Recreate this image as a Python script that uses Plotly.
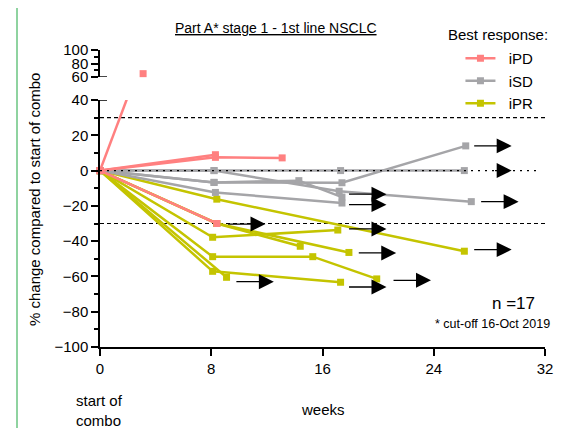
import plotly.graph_objects as go

# ---------------- data ----------------
x_ticks = [0, 8, 16, 24, 32]
y_ticks_low = [-100, -80, -60, -40, -20, 0, 20, 40]
y_ticks_up = [60, 80, 100]

# iPD (progressive disease)
pd_weeks = [[0, 8.3], [0, 8.3, 13.1], [0, 8.4]]
pd_vals = [[0, 9], [0, 7.5, 7.2], [0, -30]]
pd_up_weeks = [0, 3.1]          # patient going off the lower scale
pd_up_vals = [0, 65]

# iSD (stable disease)
sd_weeks = [[0, 8.2, 17.3, 26.2], [0, 8.2, 17.2, 26.7], [0, 8.2, 17.4, 26.3],
            [0, 8.2, 14.3, 17.4], [0, 8.3, 17.4]]
sd_vals = [[0, 0, 0, 0], [0, 0, -11.7, -17.6], [0, -6.7, -6.9, 14],
           [0, -6.7, -5.7, -15], [0, -12.4, -18.4]]

# iPR (partial response)
pr_weeks = [[0, 8.4, 26.2], [0, 8.1, 17.1], [0, 8.4, 14.4], [0, 8.4, 17.9],
            [0, 8.1, 15.3, 19.9], [0, 8.1, 17.3], [0, 9.1]]
pr_vals = [[0, -16.2, -45.7], [0, -37.8, -33.7], [0, -30, -42.9], [0, -30, -46.4],
           [0, -48.8, -48.8, -61.4], [0, -57.1, -63.3], [0, -60.5]]

# ongoing-treatment arrows (start week, value)
arrow_weeks = [9.1, 26.8, 26.8, 27.3, 17.8, 17.8, 17.8, 18.5, 21.0, 17.8, 9.7, 26.8]
arrow_vals = [-30.3, 14, 0, -17.6, -13.4, -19.3, -33.1, -46.7, -62.2, -66, -63, -44.8]
arrow_dotted = [False, False, True, False, False, False, False, False, False, False, False, False]
arrow_len = 2.8

ref_lines = [30, -30]

# ---------------- style ----------------
PINK = "#FF8080"
GREY = "#A5A5A8"
YEL = "#C4C400"
FONT = "Liberation Sans, Arial, sans-serif"

fig = go.Figure()


def add_group(weeks, vals, color, name, rank):
    for i, (w, v) in enumerate(zip(weeks, vals)):
        fig.add_trace(go.Scatter(
            x=w, y=v, mode="lines+markers", name="  " + name, legendgroup=name,
            showlegend=(i == 0), legendrank=rank,
            line=dict(color=color, width=2.5),
            marker=dict(symbol="square", size=7, color=color),
            cliponaxis=False, hoverinfo="skip"))


add_group(pr_weeks, pr_vals, YEL, "iPR", 3)
add_group(sd_weeks, sd_vals, GREY, "iSD", 2)
add_group(pd_weeks, pd_vals, PINK, "iPD", 1)

# off-scale iPD patient: line on lower axis (clipped), marker on upper axis
fig.add_trace(go.Scatter(x=pd_up_weeks, y=pd_up_vals, mode="lines", showlegend=False,
                         line=dict(color=PINK, width=2.5), hoverinfo="skip"))
fig.add_trace(go.Scatter(x=pd_up_weeks[-1:], y=pd_up_vals[-1:], mode="markers",
                         yaxis="y2", showlegend=False,
                         marker=dict(symbol="square", size=7, color=PINK),
                         cliponaxis=False, hoverinfo="skip"))

# zero reference dotted line
fig.add_shape(type="line", xref="x", yref="y", x0=x_ticks[0], x1=31.6, y0=0, y1=0,
              line=dict(color="black", width=1.2, dash="2px,5px"), layer="above")
# threshold dashed lines
for r in ref_lines:
    fig.add_shape(type="line", xref="x", yref="y", x0=x_ticks[0], x1=x_ticks[-1], y0=r, y1=r,
                  line=dict(color="black", width=1.2, dash="4px,3px"), layer="below")

# arrows (the one on the zero line keeps only a short solid part, the dotted line shows through)
for w, v, dotted in zip(arrow_weeks, arrow_vals, arrow_dotted):
    tip = w + arrow_len
    fig.add_annotation(x=tip, y=v, ax=(tip - 1.3) if dotted else w, ay=v,
                       xref="x", yref="y", axref="x", ayref="y", text="",
                       showarrow=True, arrowhead=2, arrowsize=2.3, arrowwidth=1.3,
                       arrowcolor="black", standoff=0, startstandoff=0)

# axis break marks
fig.add_shape(type="line", xref="paper", yref="y", x0=0, x1=7 / 445, y0=40, y1=40,
              line=dict(color="black", width=1.5))
fig.add_shape(type="line", xref="paper", yref="y2", x0=0, x1=7 / 445, y0=60, y1=60,
              line=dict(color="black", width=1.5))

# frame
fig.add_shape(type="rect", xref="paper", yref="paper", x0=-0.1865, x1=1.0505, y0=-0.35, y1=1.147,
              line=dict(color="#8FD3A0", width=2), layer="below")

# texts
def note(x, y, text, size, xanchor="center", **kw):
    fig.add_annotation(x=x, y=y, xref="paper", yref="paper", text=text, showarrow=False,
                       xanchor=xanchor, yanchor="middle",
                       font=dict(size=size, color="black", family=FONT), **kw)


note(0.3955, 1.074, "<u>Part A* stage 1 - 1st line NSCLC</u>", 14)
note(0.894, 1.052, "Best response:", 15)
note(-0.146, 0.495, "% change compared to start of combo", 15, textangle=-90)
note(0.5, -0.212, "weeks", 15)
note(-0.058, -0.215, "start of<br>combo", 15, xanchor="left", align="left")
note(0.982, 0.145, "n =17", 17, xanchor="right")
note(1.0157, 0.079, "* cut-off 16-Oct 2019", 12.5, xanchor="right")

axis_common = dict(showline=True, linecolor="black", linewidth=1.5, ticks="outside",
                   ticklen=7, tickwidth=1.5, tickcolor="black", showgrid=False,
                   zeroline=False, tickfont=dict(size=15, color="black", family=FONT))

# the page body adds an 8 px offset; the figure is sized so the plot area lands in place
fig.update_layout(
    width=564, height=420, margin=dict(l=92, r=27, t=42, b=81, autoexpand=False),
    paper_bgcolor="white", plot_bgcolor="white",
    xaxis=dict(range=[x_ticks[0], x_ticks[-1]], tickvals=x_ticks, domain=[0, 1],
               anchor="y", **axis_common),
    yaxis=dict(range=[y_ticks_low[0], y_ticks_low[-1]], tickvals=y_ticks_low,
               domain=[0, 0.8316], anchor="x",
               minor=dict(dtick=10, ticks="outside", ticklen=4, tickwidth=1.5, tickcolor="black"),
               **axis_common),
    yaxis2=dict(range=[y_ticks_up[0], y_ticks_up[-1]], tickvals=y_ticks_up,
                domain=[0.909, 1], anchor="x",
                minor=dict(dtick=10, ticks="outside", ticklen=4, tickwidth=1.5, tickcolor="black"),
                **axis_common),
    legend=dict(x=0.81, y=1.027, xanchor="left", yanchor="top", bgcolor="rgba(0,0,0,0)",
                font=dict(size=15, color="black", family=FONT), traceorder="normal",
                itemclick=False, tracegroupgap=0),
    showlegend=True,
)

fig.write_html("out.html")
